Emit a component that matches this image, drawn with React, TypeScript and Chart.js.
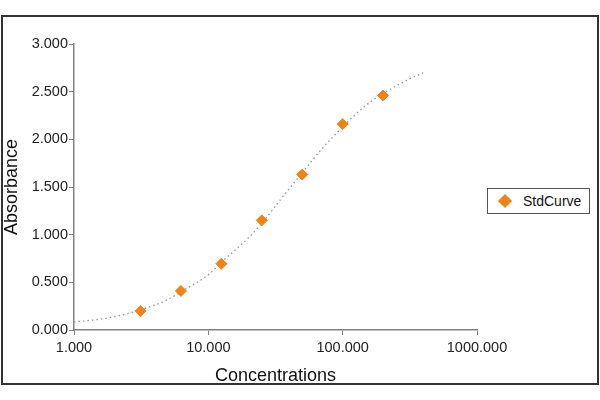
import { useEffect, useRef } from "react";
import { Chart } from "chart.js/auto";
import type { ChartConfiguration } from "chart.js/auto";

const seriesLabel = "StdCurve";

// standards (concentration, absorbance)
const stdConc = [3.125, 6.25, 12.5, 25, 50, 100, 200];
const stdAbs = [0.2, 0.41, 0.695, 1.15, 1.63, 2.16, 2.46];

// fitted curve
const fitConc = [1, 1.5, 2, 3.125, 5, 6.25, 10, 12.5, 20, 25, 35, 50, 70, 100, 150, 200, 300, 400];
const fitAbs = [0.085, 0.11, 0.14, 0.21, 0.32, 0.4, 0.58, 0.71, 0.97, 1.12, 1.38, 1.65, 1.9, 2.13, 2.36, 2.48, 2.62, 2.7];

const xTicks = [1, 10, 100, 1000];
const yTicks = [0, 0.5, 1, 1.5, 2, 2.5, 3];

const ORANGE = "#EE8318";
const AXIS = "#808080";
const FONT = "'Liberation Sans', Arial, sans-serif";

export default function App() {
  const canvasRef = useRef<HTMLCanvasElement>(null);
  const chartRef = useRef<Chart | null>(null);

  useEffect(() => {
    if (!canvasRef.current) return;
    if (chartRef.current) chartRef.current.destroy();

    const config: ChartConfiguration = {
      type: "scatter",
      data: {
        datasets: [
          {
            label: seriesLabel,
            data: stdConc.map((x, i) => ({ x, y: stdAbs[i] })),
            pointStyle: "rectRot",
            pointRadius: 5.5,
            backgroundColor: ORANGE,
            borderColor: ORANGE,
            borderWidth: 1,
            showLine: false,
          },
          {
            label: "fit",
            data: fitConc.map((x, i) => ({ x, y: fitAbs[i] })),
            showLine: true,
            pointRadius: 0,
            borderColor: "#8d98ad",
            borderWidth: 1.3,
            borderDash: [1.5, 3],
            cubicInterpolationMode: "monotone",
          },
        ],
      },
      options: {
        animation: false,
        responsive: false,
        maintainAspectRatio: false,
        layout: { padding: { top: 44, right: 123, bottom: 0, left: 0 } },
        plugins: {
          legend: { display: false },
          tooltip: { enabled: false },
        },
        scales: {
          x: {
            type: "logarithmic",
            min: 1,
            max: 1000,
            afterBuildTicks: (scale) => {
              scale.ticks = xTicks.map((value) => ({ value }));
            },
            afterFit: (scale) => {
              scale.height = 70;
            },
            grid: { drawOnChartArea: false, tickLength: 5, color: AXIS },
            border: { color: AXIS, width: 1.5 },
            ticks: {
              color: "#222",
              font: { family: FONT, size: 14.5 },
              padding: 4,
              maxRotation: 0,
              callback: (v) => Number(v).toFixed(3),
            },
            title: {
              display: true,
              text: "Concentrations",
              color: "#111",
              font: { family: FONT, size: 18 },
              padding: { top: 0, bottom: 13 },
            },
          },
          y: {
            min: 0,
            max: 3,
            afterBuildTicks: (scale) => {
              scale.ticks = yTicks.map((value) => ({ value }));
            },
            afterFit: (scale) => {
              scale.width = 74;
            },
            grid: { drawOnChartArea: false, tickLength: 5, color: AXIS },
            border: { color: AXIS, width: 1.5 },
            ticks: {
              color: "#222",
              font: { family: FONT, size: 14.5 },
              padding: 1,
              callback: (v) => Number(v).toFixed(3),
            },
            title: {
              display: true,
              text: "Absorbance",
              color: "#111",
              font: { family: FONT, size: 18 },
              padding: { top: 1, bottom: 0 },
            },
          },
        },
      },
    };

    chartRef.current = new Chart(canvasRef.current, config);

    return () => {
      if (chartRef.current) {
        chartRef.current.destroy();
        chartRef.current = null;
      }
    };
  }, []);

  return (
    <div
      style={{
        position: "fixed",
        left: 0,
        top: 0,
        width: 600,
        height: 400,
        background: "#fff",
      }}
    >
      <div
        style={{
          position: "absolute",
          left: 1,
          top: 15,
          width: 594,
          height: 366,
          border: "2px solid #333",
        }}
      />
      <canvas
        ref={canvasRef}
        width={600}
        height={400}
        style={{ position: "absolute", left: 0, top: 0, width: 600, height: 400 }}
      ></canvas>
      <div
        style={{
          position: "absolute",
          left: 487,
          top: 188,
          width: 101,
          height: 24,
          border: "1px solid #555",
          background: "#fff",
          fontFamily: FONT,
          fontSize: 14,
          color: "#111",
          display: "flex",
          alignItems: "center",
        }}
      >
        <span
          style={{
            display: "inline-block",
            width: 10,
            height: 10,
            background: ORANGE,
            transform: "rotate(45deg)",
            marginLeft: 12,
            marginRight: 13,
          }}
        />
        <span>{seriesLabel}</span>
      </div>
    </div>
  );
}
